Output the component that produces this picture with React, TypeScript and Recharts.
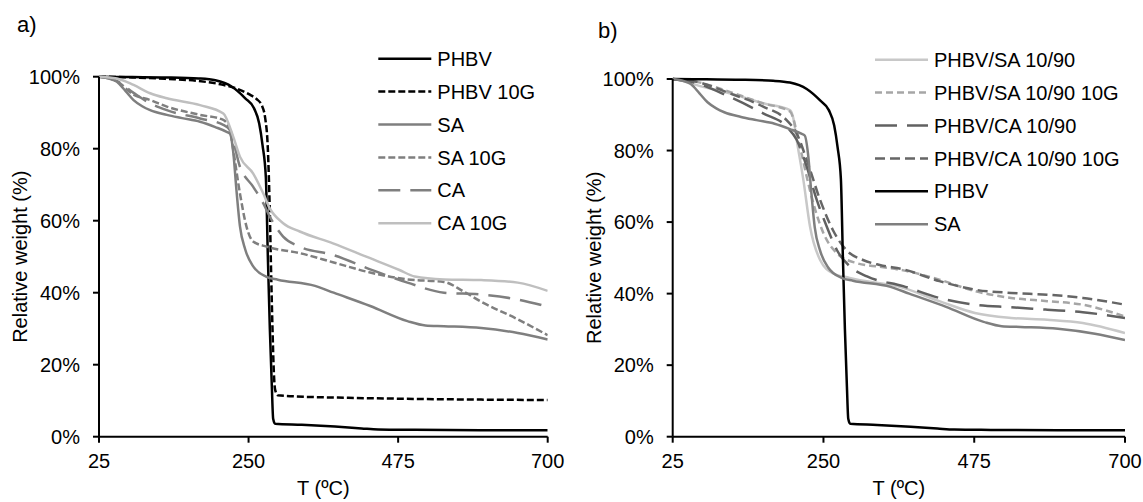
import React from 'react';
import { LineChart, Line, XAxis, YAxis, Label } from 'recharts';

const FONT = '"Liberation Sans", Arial, sans-serif';
const FS = 20;

const tempTicks = [25, 250, 475, 700];
const weightTicks = [0, 20, 40, 60, 80, 100];

// TGA curves: [T (ºC), relative weight %]
const PHBV = [
  [25, 100], [75, 99.9], [125, 99.8], [175, 99.5], [200, 99], [225, 97.2], [245, 94], [258, 91.3],
  [266, 87], [271, 81], [276, 72], [279, 50], [282, 30], [285, 14], [287, 5], [290, 3.6],
  [330, 3.3], [380, 2.8], [420, 2.3], [445, 2.0], [500, 1.9], [600, 1.8], [700, 1.8],
];
const PHBV_10G = [
  [25, 100], [75, 99.8], [125, 99.4], [175, 98.8], [210, 97.8], [235, 96.5], [252, 95], [262, 93.8],
  [270, 92], [275, 88.5], [279, 80], [282, 62], [284, 45], [286, 30], [288, 18], [290, 13],
  [294, 11.5], [320, 11.2], [400, 10.8], [500, 10.5], [600, 10.3], [700, 10.2],
];
const SA = [
  [25, 100], [40, 99.5], [52, 98.6], [65, 96], [77, 93.5], [90, 91.8], [102, 90.7], [127, 89.4],
  [150, 88.5], [177, 87.5], [200, 86], [217, 84.7], [222, 84.2], [227, 79], [232, 68], [237, 58.5],
  [245, 52], [257, 47.3], [277, 44.4], [294, 43.6], [350, 41.9], [378, 40], [433, 36.3], [489, 32.1],
  [516, 30.9], [544, 30.7], [600, 30.2], [655, 28.8], [700, 27],
];
const SA_10G = [
  [25, 100], [50, 99], [77, 95], [102, 93.5], [127, 91.7], [177, 89.4], [212, 88], [222, 85.2],
  [227, 79.6], [237, 67.6], [247, 58.3], [257, 54.2], [277, 52.8], [327, 51], [378, 48.4], [433, 45.6],
  [489, 43.7], [544, 43], [572, 40.5], [600, 37.5], [655, 32.6], [700, 28.2],
];
const CA = [
  [25, 100], [50, 99], [77, 95.5], [102, 92.6], [127, 90.7], [177, 88.4], [212, 86.6], [222, 85.2],
  [237, 75], [257, 69.4], [272, 64.9], [282, 61.1], [302, 55.6], [327, 52.8], [377, 50.5], [433, 46.5],
  [489, 42.8], [544, 40], [600, 39.5], [655, 38.1], [700, 36.1],
];
const CA_10G = [
  [25, 100], [52, 99.5], [77, 97.7], [102, 95.4], [127, 94], [177, 92.1], [212, 89.8], [227, 83.3],
  [237, 77.8], [257, 73.1], [272, 67.6], [282, 63.4], [302, 59.3], [327, 57], [377, 53.7], [427, 50],
  [477, 46.3], [500, 44.5], [544, 43.7], [600, 43.5], [655, 42.8], [700, 40.5],
];
const PHBV_SA = [
  [25, 100], [40, 99.5], [61, 98.3], [110, 96], [160, 93.2], [200, 91.3], [205, 89], [210, 83],
  [220, 71.8], [230, 58.7], [245, 49.4], [264, 45.7], [289, 44.4], [369, 41.6], [423, 37.9],
  [476, 34.6], [530, 33.2], [584, 32.7], [637, 31.8], [700, 29],
];
const PHBV_SA_10G = [
  [25, 100], [61, 99.2], [110, 96.4], [160, 93.2], [200, 90.9], [215, 81], [225, 72.7], [235, 65.2],
  [250, 56.9], [270, 51.3], [300, 48.5], [334, 47.5], [369, 46.5], [423, 43.9], [476, 40.7],
  [530, 38.8], [584, 37.9], [637, 36.9], [700, 33.6],
];
const PHBV_CA = [
  [25, 100], [61, 98.8], [110, 95], [160, 90.4], [195, 86.7], [210, 83], [225, 75.5], [240, 66.2],
  [255, 58.7], [270, 52.2], [290, 47.5], [315, 44.8], [369, 42.1], [423, 38.8], [476, 36.9],
  [530, 36.2], [584, 35.5], [637, 34.8], [700, 33.2],
];
const PHBV_CA_10G = [
  [25, 100], [61, 99.2], [110, 96], [160, 92.3], [195, 88.5], [210, 84.8], [225, 77.4], [245, 66.2],
  [264, 57.8], [284, 52.2], [309, 49.4], [334, 48], [369, 46.8], [423, 43.5], [476, 41.1],
  [530, 40.2], [584, 39.7], [637, 38.8], [700, 36.9],
];

type Series = { name: string; data: number[][]; color: string; dash?: string };

const seriesA: Series[] = [
  { name: 'PHBV', data: PHBV, color: '#000000' },
  { name: 'PHBV 10G', data: PHBV_10G, color: '#000000', dash: '7 3' },
  { name: 'SA', data: SA, color: '#7f7f7f' },
  { name: 'SA 10G', data: SA_10G, color: '#7f7f7f', dash: '7 3' },
  { name: 'CA', data: CA, color: '#7f7f7f', dash: '22 10' },
  { name: 'CA 10G', data: CA_10G, color: '#bfbfbf' },
];

const seriesB: Series[] = [
  { name: 'PHBV/SA 10/90', data: PHBV_SA, color: '#c8c8c8' },
  { name: 'PHBV/SA 10/90 10G', data: PHBV_SA_10G, color: '#a6a6a6', dash: '7 4' },
  { name: 'PHBV/CA 10/90', data: PHBV_CA, color: '#616161', dash: '22 10' },
  { name: 'PHBV/CA 10/90 10G', data: PHBV_CA_10G, color: '#666666', dash: '10 5' },
  { name: 'PHBV', data: PHBV, color: '#000000' },
  { name: 'SA', data: SA, color: '#7f7f7f' },
];

const toRows = (pts: number[][]) => pts.map(([t, w]) => ({ t, w }));

const textStyle = { fill: '#000', fontSize: FS, fontFamily: FONT };

const xTitle = (props: any) => {
  const vb = props.viewBox;
  return (
    <text x={vb.x + vb.width / 2} y={vb.y + vb.height - 7} textAnchor="middle" {...textStyle}>
      T (ºC)
    </text>
  );
};

const yTitle = (props: any) => {
  const vb = props.viewBox;
  const cx = vb.x + vb.width - 79 + 7;
  const cy = vb.y + vb.height / 2;
  return (
    <text x={cx} y={cy} textAnchor="middle" transform={`rotate(-90, ${cx}, ${cy})`} {...textStyle}>
      Relative weight (%)
    </text>
  );
};

type PanelProps = {
  left: number;
  width: number;
  margin: { top: number; right: number; bottom: number; left: number };
  series: Series[];
  tag: string;
  tagX: number;
  tagY: number;
  legX: number;
  legY: number;
};

const Panel = ({ left, width, margin, series, tag, tagX, tagY, legX, legY }: PanelProps) => (
  <div style={{ position: 'absolute', left, top: 0, width, height: 502 }}>
    <LineChart width={width} height={502} margin={margin}>
      <XAxis
        type="number"
        dataKey="t"
        domain={[25, 700]}
        ticks={tempTicks}
        interval={0}
        allowDataOverflow
        height={502 - 436.7 - margin.bottom}
        axisLine={{ stroke: '#000', strokeWidth: 2 }}
        tickLine={{ stroke: '#000', strokeWidth: 2 }}
        tickSize={6}
        tickMargin={11}
        tick={textStyle}
      >
        <Label content={xTitle} />
      </XAxis>
      <YAxis
        type="number"
        dataKey="w"
        domain={[0, 100]}
        ticks={weightTicks}
        interval={0}
        width={99}
        tickFormatter={(v: number) => `${v}%`}
        axisLine={{ stroke: '#000', strokeWidth: 2 }}
        tickLine={{ stroke: '#000', strokeWidth: 2 }}
        tickSize={6}
        tickMargin={13}
        tick={textStyle}
      >
        <Label content={yTitle} />
      </YAxis>
      {series.map((s) => (
        <Line
          key={s.name}
          data={toRows(s.data)}
          dataKey="w"
          name={s.name}
          type="monotone"
          stroke={s.color}
          strokeWidth={2.5}
          strokeDasharray={s.dash}
          dot={false}
          activeDot={false}
          isAnimationActive={false}
        />
      ))}
    </LineChart>
    <svg
      width={width}
      height={502}
      style={{ position: 'absolute', left: 0, top: 0, pointerEvents: 'none' }}
    >
      <text x={tagX} y={tagY} fontSize={22} fontFamily={FONT} fill="#000">
        {tag}
      </text>
      {series.map((s, i) => {
        const y = legY + i * 32.9;
        return (
          <g key={s.name}>
            <line x1={legX} x2={legX + 53} y1={y} y2={y} stroke={s.color} strokeWidth={2.5} strokeDasharray={s.dash} />
            <text x={legX + 59} y={y + 0.358 * FS} {...textStyle}>
              {s.name}
            </text>
          </g>
        );
      })}
    </svg>
  </div>
);

export default function App() {
  return (
    <div style={{ position: 'absolute', left: 0, top: 0, width: 1143, height: 502, background: '#fff' }}>
      <Panel
        left={0}
        width={571}
        margin={{ top: 76.7, right: 23.3, bottom: 0, left: 0 }}
        series={seriesA}
        tag="a)"
        tagX={17}
        tagY={32}
        legX={378.3}
        legY={58.7}
      />
      <Panel
        left={571}
        width={572}
        margin={{ top: 79, right: 18, bottom: 0, left: 2.7 }}
        series={seriesB}
        tag="b)"
        tagX={27}
        tagY={38}
        legX={304}
        legY={59.7}
      />
    </div>
  );
}
